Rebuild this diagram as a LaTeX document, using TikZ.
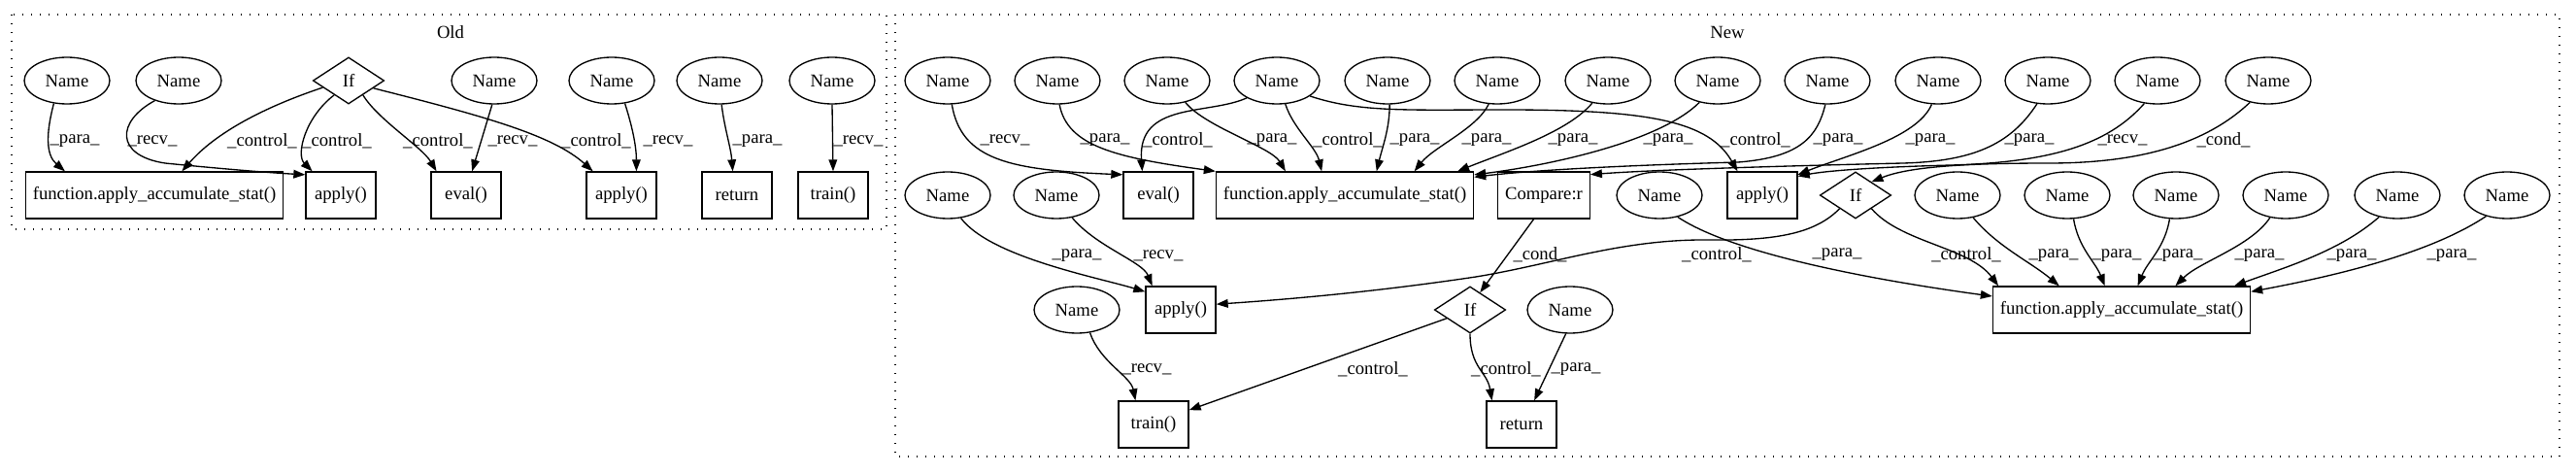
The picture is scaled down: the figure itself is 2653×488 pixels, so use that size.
\documentclass[tikz,border=0pt]{standalone}
\usepackage{fontspec}
\setmainfont{Liberation Serif}
\usetikzlibrary{arrows.meta,shapes.geometric}

\begin{document}
\begin{tikzpicture}[x=0.75pt,y=-0.75pt,font=\fontsize{14pt}{16pt}\selectfont,
    namenode/.style={draw,ellipse,line width=1pt,minimum width=66pt,minimum height=36pt,inner sep=0pt},
    callbox/.style={draw,rectangle,line width=1pt,minimum width=54pt,minimum height=36pt,inner xsep=5.5pt,inner ysep=0pt},
    ifnode/.style={draw,diamond,line width=1pt,minimum width=55pt,minimum height=36pt,inner sep=0pt},
    flow/.style={-{Triangle[length=9pt,width=6.5pt]},line width=1pt},
    elabel/.style={inner sep=0pt},
    cluster/.style={line width=1pt,dash pattern=on 1pt off 5.75pt}]
  \useasboundingbox (0,0) rectangle (2653,488);

  \draw[cluster] (12,15) rectangle (913,236);
  \node (oldtitle) at (464,33) {Old};
  \draw[cluster] (922,15) rectangle (2636,470);
  \node (newtitle) at (1779,33) {New};

  \node[namenode] (oN1) at (69,83) {Name};
  \node[namenode] (oN2) at (184,83) {Name};
  \node[ifnode] (oIf) at (359,83) {If};
  \node[namenode] (oN3) at (509,83) {Name};
  \node[namenode] (oN4) at (630,83) {Name};
  \node[namenode] (oN5) at (741,83) {Name};
  \node[namenode] (oN6) at (857,83) {Name};
  \node[callbox] (oFn) at (159,201) {function.apply\_accumulate\_stat()};
  \node[callbox] (oApA) at (351,201) {apply()};
  \node[callbox] (oEval) at (480,201) {eval()};
  \node[callbox] (oApB) at (640,201) {apply()};
  \node[callbox] (oRet) at (759,201) {return};
  \node[callbox] (oTrain) at (858,201) {train()};

  \draw[flow] (oN1.-120) .. controls +(-8,30) and +(-20,-17) .. (oFn.165) node[elabel] at (77,145) {\_para\_};
  \draw[flow] (oN2.-140) .. controls (120,125) and (118,160) .. (170,168) .. controls (230,174) and (280,178) .. (oApA.150) node[elabel] at (157,145) {\_recv\_};
  \draw[flow] (oIf.-165) .. controls +(-60,20) and +(35,-40) .. (oFn.41) node[elabel] at (270,145) {\_control\_};
  \draw[flow] (oIf.-135) .. controls +(-30,23) and +(-17,-17) .. (oApA.140) node[elabel] at (347,145) {\_control\_};
  \draw[flow] (oIf.-45) .. controls +(15,25) and +(-15,-25) .. (oEval.141) node[elabel] at (451,145) {\_control\_};
  \draw[flow] (oN3.-95) -- (oEval.76) node[elabel] at (528,145) {\_recv\_};
  \draw[flow] (oIf.-17) .. controls +(115,29) and +(-41,-37) .. (oApB.140) node[elabel] at (614,145) {\_control\_};
  \draw[flow] (oN4.-60) .. controls +(8,25) and +(0,-25) .. (oApB.58) node[elabel] at (688,145) {\_recv\_};
  \draw[flow] (oN5.-85) .. controls +(3,25) and +(-2,-25) .. (oRet.100) node[elabel] at (780,145) {\_para\_};
  \draw[flow] (oN6.south) -- (oTrain.north) node[elabel] at (884,145) {\_recv\_};

  \node[namenode] (nN1) at (976,83) {Name};
  \node[namenode] (nN2) at (1089,83) {Name};
  \node[namenode] (nN3) at (1202,83) {Name};
  \node[namenode] (nN4) at (1315,83) {Name};
  \node[namenode] (nN5) at (1429,83) {Name};
  \node[namenode] (nN6) at (1542,83) {Name};
  \node[namenode] (nN7) at (1656,83) {Name};
  \node[namenode] (nN8) at (1769,83) {Name};
  \node[namenode] (nN9) at (1882,83) {Name};
  \node[namenode] (nN10) at (1996,83) {Name};
  \node[namenode] (nN11) at (2109,83) {Name};
  \node[namenode] (nN12) at (2222,83) {Name};
  \node[namenode] (nN13) at (2336,83) {Name};

  \node[namenode] (nM1) at (976,201) {Name};
  \node[namenode] (nM2) at (1088,201) {Name};
  \node[callbox] (nEval) at (1193,201) {eval()};
  \node[callbox] (nFn) at (1385,201) {function.apply\_accumulate\_stat()};
  \node[callbox] (nCmp) at (1590,201) {Compare:r};
  \node[namenode] (nM3) at (1709,201) {Name};
  \node[callbox] (nApA) at (1815,201) {apply()};
  \node[ifnode] (nIf) at (1911,201) {If};
  \node[namenode] (nM4) at (2016,201) {Name};
  \node[namenode] (nM5) at (2129,201) {Name};
  \node[namenode] (nM6) at (2241,201) {Name};
  \node[namenode] (nM7) at (2354,201) {Name};
  \node[namenode] (nM8) at (2469,201) {Name};
  \node[namenode] (nM9) at (2582,201) {Name};

  \node[namenode] (nL1) at (1109,319) {Name};
  \node[callbox] (nApB) at (1216,319) {apply()};
  \node[ifnode] (nIf2) at (1514,319) {If};
  \node[namenode] (nL2) at (1617,319) {Name};
  \node[callbox] (nFn2) at (2185,319) {function.apply\_accumulate\_stat()};

  \node[callbox] (nTrain) at (1188,437) {train()};
  \node[callbox] (nRet) at (1567,437) {return};

  \draw[flow] (nN1.-80) .. controls (990,165) and (1040,175) .. (nEval.150) node[elabel] at (1035,144) {\_recv\_};
  \draw[flow] (nN2.-85) .. controls +(8,43) and +(-102,-14) .. (nFn.north west) node[elabel] at (1138,144) {\_para\_};
  \draw[flow] (nN4.-150) .. controls +(-40,18) and +(-5,-72) .. (nEval.124) node[elabel] at (1213,144) {\_control\_};
  \draw[flow] (nN3.-50) .. controls +(20,25) and +(-15,-25) .. (nFn.158) node[elabel] at (1310,144) {\_para\_};
  \draw[flow] (nN4.-70) .. controls +(8,25) and +(-6,-25) .. (nFn.134) node[elabel] at (1388,144) {\_control\_};
  \draw[flow] (nN5.-85) .. controls +(0,25) and +(6,-25) .. (nFn.37) node[elabel] at (1457,144) {\_para\_};
  \draw[flow] (nN6.-110) .. controls +(-12,25) and +(20,-25) .. (nFn.19) node[elabel] at (1531,144) {\_para\_};
  \draw[flow] (nN7.-125) .. controls +(-25,30) and +(50,-20) .. (nFn.12) node[elabel] at (1620,144) {\_para\_};
  \draw[flow] (nN8.-130) .. controls +(-40,40) and +(80,-10) .. (nFn.9) node[elabel] at (1718,144) {\_para\_};
  \draw[flow] (nN4.-25) .. controls (1400,116) and (1450,113) .. (1550,113) .. controls (1700,113) and (1760,125) .. (nApA.136) node[elabel] at (1808,144) {\_control\_};
  \draw[flow] (nN9.-95) .. controls (1872,140) and (1855,162) .. (1790,167) .. controls (1680,170) and (1580,175) .. (nFn.8) node[elabel] at (1893,144) {\_para\_};
  \draw[flow] (nN10.-105) .. controls +(-15,35) and +(50,-20) .. (nApA.30) node[elabel] at (1988,144) {\_para\_};
  \draw[flow] (nN11.-115) .. controls (2070,150) and (2030,166) .. (1960,168) .. controls (1830,171) and (1700,175) .. (nCmp.24) node[elabel] at (2090,144) {\_para\_};
  \draw[flow] (nN12.-120) .. controls (2170,150) and (2110,167) .. (2010,170) .. controls (1930,172) and (1880,176) .. (nApA.28) node[elabel] at (2186,144) {\_recv\_};
  \draw[flow] (nN13.-130) .. controls (2270,150) and (2200,168) .. (2110,168) .. controls (2020,168) and (1965,172) .. (nIf.40) node[elabel] at (2290,144) {\_cond\_};

  \draw[flow] (nM1.-60) .. controls +(30,40) and +(-50,-15) .. (nApB.153) node[elabel] at (1109,263) {\_para\_};
  \draw[flow] (nM2.-55) .. controls +(25,30) and +(-10,-25) .. (nApB.140) node[elabel] at (1193,263) {\_recv\_};
  \draw[flow] (nCmp.-113) -- (nIf2.60) node[elabel] at (1586,262) {\_cond\_};
  \draw[flow] (nIf.-140) .. controls (1870,240) and (1830,248) .. (1760,247) .. controls (1670,246) and (1600,272) .. (1520,285) .. controls (1420,300) and (1330,308) .. (nApB.9) node[elabel] at (1768,262) {\_control\_};
  \draw[flow] (nIf.-40) .. controls +(30,35) and +(-30,-40) .. (nFn2.169) node[elabel] at (2025,262) {\_control\_};
  \draw[flow] (nM3.-50) .. controls +(60,40) and +(-110,-15) .. (nFn2.174) node[elabel] at (1892,262) {\_para\_};
  \draw[flow] (nM4.-55) .. controls +(25,30) and +(-30,-25) .. (nFn2.159) node[elabel] at (2115,263) {\_para\_};
  \draw[flow] (nM5.-75) .. controls +(5,30) and +(-10,-25) .. (nFn2.125) node[elabel] at (2180,263) {\_para\_};
  \draw[flow] (nM6.-105) .. controls +(-5,30) and +(10,-25) .. (nFn2.56) node[elabel] at (2243,263) {\_para\_};
  \draw[flow] (nM7.-125) .. controls +(-20,30) and +(25,-25) .. (nFn2.24) node[elabel] at (2327,263) {\_para\_};
  \draw[flow] (nM8.-130) .. controls +(-40,35) and +(55,-20) .. (nFn2.12) node[elabel] at (2422,263) {\_para\_};
  \draw[flow] (nM9.-135) .. controls +(-60,40) and +(80,-15) .. (nFn2.8) node[elabel] at (2525,263) {\_para\_};

  \draw[flow] (nL1.-60) .. controls +(10,30) and +(-5,-25) .. (nTrain.127) node[elabel] at (1181,380) {\_recv\_};
  \draw[flow] (nIf2.-160) -- (nTrain.22) node[elabel] at (1414,380) {\_control\_};
  \draw[flow] (nIf2.south) .. controls +(0,35) and +(-5,-30) .. (nRet.141) node[elabel] at (1551,380) {\_control\_};
  \draw[flow] (nL2.-100) -- (nRet.62) node[elabel] at (1623,380) {\_para\_};
\end{tikzpicture}
\end{document}
